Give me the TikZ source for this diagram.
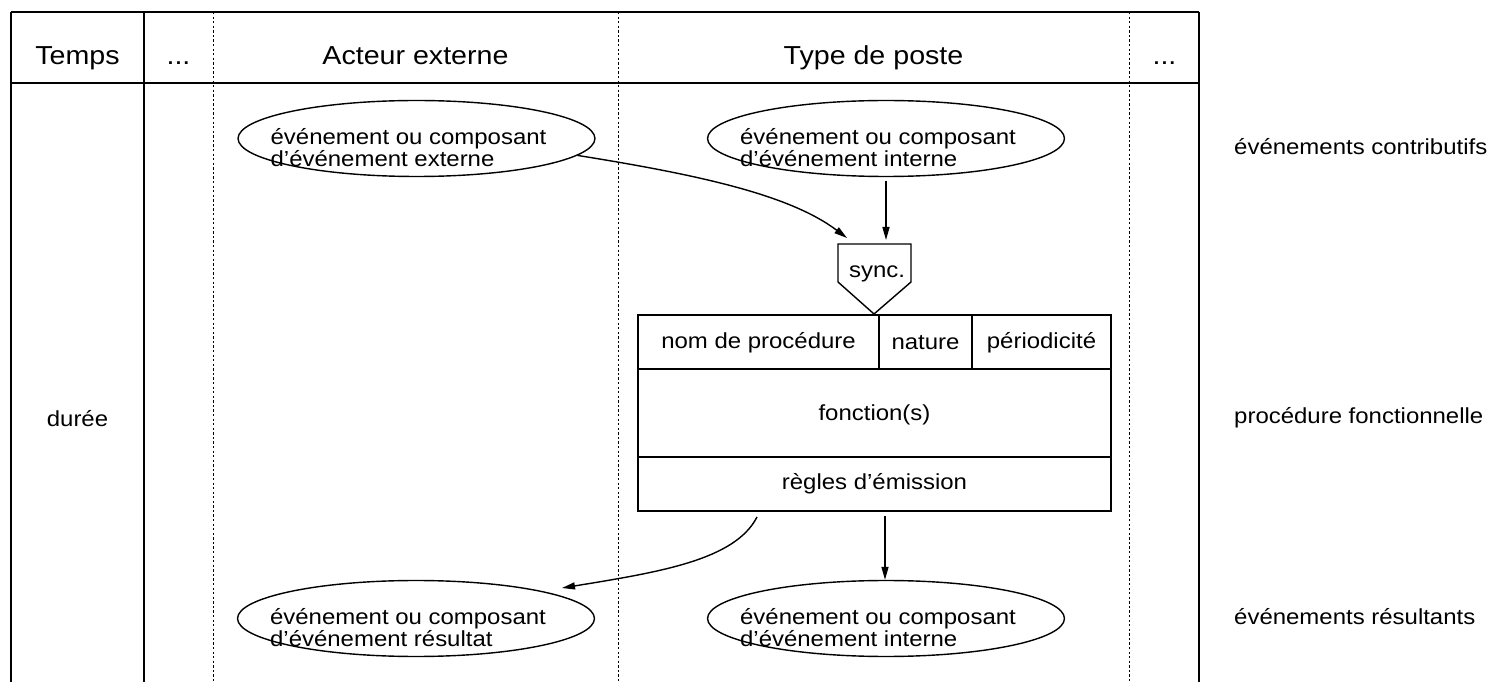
\documentclass[tikz,border=0pt]{standalone}
\usepackage{fontspec}
\setmainfont{Liberation Sans}[FakeStretch=1.1]
\usetikzlibrary{shapes.geometric, arrows.meta}

\begin{document}
\begin{tikzpicture}[x=0.02cm, y=-0.02cm,
    frame/.style={line width=0.8pt},
    lane/.style={line width=0.55pt, dash pattern=on 1.3pt off 1.3pt},
    event/.style={draw, ellipse, line width=0.8pt, minimum width=7.14cm, minimum height=1.52cm, inner sep=0pt},
    evtext/.style={align=left, inner sep=0pt, xshift=-0.16cm, yshift=-0.18cm, font=\fontsize{12.4}{12.5}\selectfont},
    head/.style={anchor=base, font=\fontsize{14.8}{17}\selectfont},
    body/.style={font=\fontsize{12.4}{14}\selectfont},
    flow/.style={-{Triangle[length=7.4pt,width=4pt]}, line width=0.8pt}]
    \useasboundingbox (0,0) rectangle (1492,682);

    % Lanes: solid borders, dashed separators
    \draw[frame] (11,12) -- (1199,12);
    \draw[frame] (11,83) -- (1199,83);
    \foreach \x in {11,144,1199} \draw[frame] (\x,12) -- (\x,682);
    \foreach \x in {213,618,1129} \draw[lane] (\x,12) -- (\x,682);

    % Headers
    \node[head] (temps) at (77.5,65) {Temps};
    \node[head] (dotsa) at (178.5,65) {...};
    \node[head] (acteur) at (415.5,65) {Acteur externe};
    \node[head] (poste) at (873.5,65) {Type de poste};
    \node[head] (dotsb) at (1164.5,65) {...};
    \node[body] (duree) at (77.5,419) {durée};

    % Contributing events
    \node[event] (extin) at (416.5,138.5) {};
    \node[evtext] (extintxt) at (extin) {événement ou composant\\d’événement externe};
    \node[event] (intin) at (886,138.5) {};
    \node[evtext] (intintxt) at (intin) {événement ou composant\\d’événement interne};

    % Synchronisation
    \draw[frame] (838,244) -- (911,244) -- (911,282) -- (874,314) -- (838,282) -- cycle;
    \node[body] (sync) at (877,274) {sync.};

    % Functional procedure
    \node[draw, frame, minimum width=9.46cm, minimum height=3.92cm] (proc) at (874.5,413) {};
    \draw[frame] (638,369) -- (1111,369);
    \draw[frame] (638,457) -- (1111,457);
    \draw[frame] (879,315) -- (879,369);
    \draw[frame] (972,315) -- (972,369);
    \node[body] (nom) at (758.5,343) {nom de procédure};
    \node[body] (nature) at (925.5,343) {nature};
    \node[body] (period) at (1041.5,343) {périodicité};
    \node[body] (fonction) at (874.5,415) {fonction(s)};
    \node[body] (regles) at (874.5,484) {règles d’émission};

    % Resulting events
    \node[event] (extout) at (416,618.5) {};
    \node[evtext] (extouttxt) at (extout) {événement ou composant\\d’événement résultat};
    \node[event] (intout) at (886,618.5) {};
    \node[evtext] (intouttxt) at (intout) {événement ou composant\\d’événement interne};

    % Row labels
    \node[body, anchor=base west] (contrib) at (1228,155) {événements contributifs};
    \node[body, anchor=base west] (fonct) at (1228,423) {procédure fonctionnelle};
    \node[body, anchor=base west] (result) at (1228,624) {événements résultants};

    % Flows
    \coordinate (syncin) at (847,238);
    \coordinate (synctop) at (885,240);
    \coordinate (emit) at (757,517);
    \coordinate (resin) at (562,588);
    \coordinate (outint) at (885,516);
    \draw[flow] (extin.-6) .. controls (700,175) and (790,195) .. (syncin);
    \draw[flow, shorten <=2pt] (intin.south) -- (intin.south |- synctop);
    \draw[flow] (emit) .. controls (735,560) and (660,572) .. (resin);
    \draw[flow] (outint) -- (outint |- intout.north);
\end{tikzpicture}
\end{document}
